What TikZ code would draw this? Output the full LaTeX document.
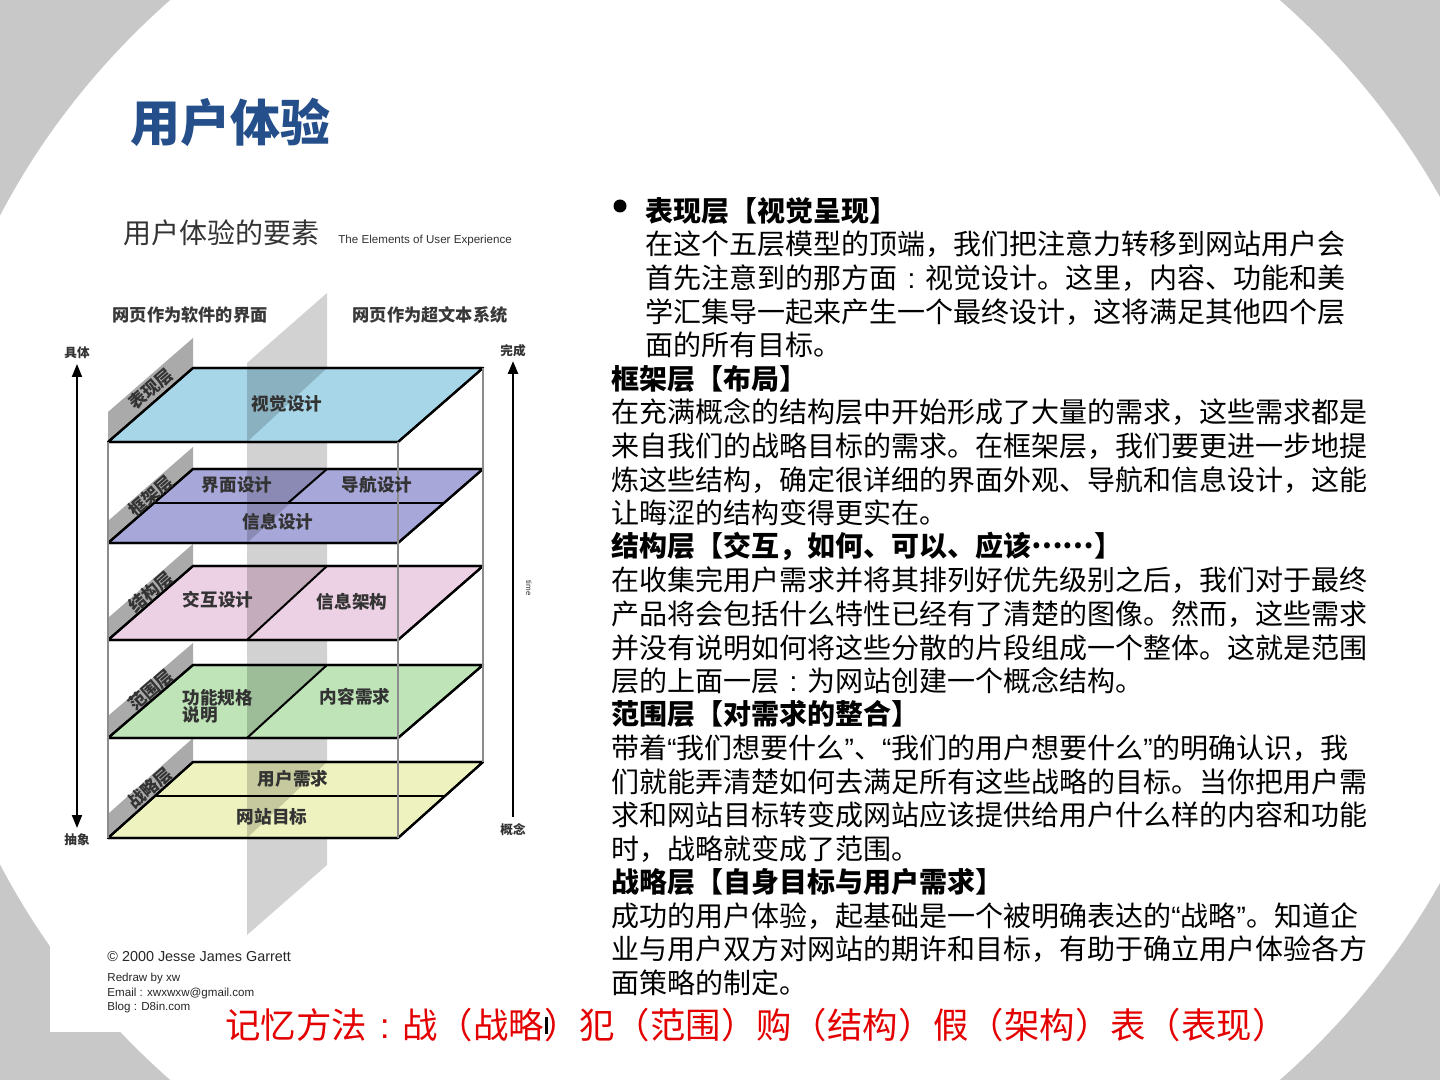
\documentclass[tikz,border=0pt]{standalone}
\usepackage{fontspec}
\usetikzlibrary{arrows.meta}
\newfontfamily\cjk{Noto Sans CJK SC}
\newfontfamily\arialf{Liberation Sans}
\newcommand\myoq{{\arialf “}}
\newcommand\mycq{{\arialf ”}}
\newcommand\zcolon{\makebox[1em][c]{\arialf :}}
\definecolor{bggray}{RGB}{200,200,200}
\definecolor{ttlblue}{RGB}{37,79,138}
\definecolor{pblue}{RGB}{166,214,232}
\definecolor{ppurple}{RGB}{167,167,218}
\definecolor{ppink}{RGB}{236,208,228}
\definecolor{pgreen}{RGB}{190,228,184}
\definecolor{pyellow}{RGB}{238,242,190}
\definecolor{tabgray}{RGB}{170,170,170}
\definecolor{midgray}{RGB}{210,210,210}
\definecolor{memred}{RGB}{228,0,0}
\begin{document}
\begin{tikzpicture}[x=0.5pt,y=-0.5pt,
  planeln/.style={draw=black, line width=1.1pt, line join=round},
  divln/.style={draw=black, line width=1pt},
  boxln/.style={draw=black!45, line width=0.8pt},
  tabfill/.style={fill=tabgray},
  shade/.style={fill=black, opacity=0.17},
  tablbl/.style={rotate=41, inner sep=0, font=\cjk\bfseries\fontsize{8.6}{8.6}\selectfont, text=black!80},
  plbl/.style={inner sep=0, font=\cjk\bfseries\fontsize{8.8}{9}\selectfont, text=black!80},
  sidelbl/.style={inner sep=0, font=\cjk\bfseries\fontsize{8.6}{9}\selectfont, text=black!78},
  axlbl/.style={inner sep=0, font=\cjk\bfseries\fontsize{6.3}{6.3}\selectfont, text=black!80},
  credit/.style={anchor=west, inner sep=0, font=\arialf\fontsize{5.8}{6}\selectfont, text=black!85},
  bodyln/.style={anchor=west, inner sep=0, font=\cjk\fontsize{14}{14}\selectfont, text=black},
  headln/.style={anchor=west, inner sep=0, font=\cjk\bfseries\fontsize{14}{14}\selectfont, text=black}
]
\useasboundingbox (0,0) rectangle (1440,1080);
\clip (0,0) rectangle (1440,1080);
% background
\fill[bggray] (0,0) rectangle (1440,1080);
\fill[white] (725,540) ellipse [x radius=805, y radius=745];
\fill[white] (50,180) rectangle (560,1032);

% title
\node[anchor=west, inner sep=0, font=\cjk\bfseries\fontsize{25}{25}\selectfont, text=ttlblue] (title) at (130,122) {用户体验};

% ---------- left diagram ----------
\node[anchor=west, inner sep=0, font=\cjk\fontsize{14}{14}\selectfont, text=black!80] (dtitle) at (123,233) {用户体验的要素};
\node[anchor=west, inner sep=0, font=\arialf\fontsize{5.8}{6}\selectfont, text=black!80] (dsub) at (338,241) {The Elements of User Experience};
\node[sidelbl] (sideL) at (190,315) {网页作为软件的界面};
\node[sidelbl] (sideR) at (430,315) {网页作为超文本系统};

% central vertical gray plane
\fill[midgray] (247,363) -- (327,293) -- (327,865) -- (247,935) -- cycle;

% tabs
\fill[tabfill] (108,442) -- (193,368) -- (193,338) -- (108,412) -- cycle;
\fill[tabfill] (108,543) -- (193,469) -- (193,447) -- (108,521) -- cycle;
\fill[tabfill] (108,640) -- (193,566) -- (193,544) -- (108,618) -- cycle;
\fill[tabfill] (108,738) -- (193,665) -- (193,643) -- (108,716) -- cycle;
\fill[tabfill] (108,838) -- (193,762) -- (193,738) -- (108,814) -- cycle;

% planes
\filldraw[planeln, fill=pblue] (108,442) -- (193,368) -- (483,368) -- (398,442) -- cycle;
\fill[shade] (247,442) -- (247,368) -- (327,368) -- cycle;
\draw[planeln] (108,442) -- (193,368) -- (483,368) -- (398,442) -- cycle;

\filldraw[planeln, fill=ppurple] (108,543) -- (193,469) -- (483,469) -- (398,543) -- cycle;
\fill[shade] (247,543) -- (247,469) -- (327,469) -- cycle;
\draw[planeln] (108,543) -- (193,469) -- (483,469) -- (398,543) -- cycle;
\draw[divln] (154,503) -- (444,503);
\draw[divln] (288,503) -- (327,469);

\filldraw[planeln, fill=ppink] (108,640) -- (193,566) -- (483,566) -- (398,640) -- cycle;
\fill[shade] (247,640) -- (247,566) -- (327,566) -- cycle;
\draw[planeln] (108,640) -- (193,566) -- (483,566) -- (398,640) -- cycle;
\draw[divln] (247,640) -- (327,566);

\filldraw[planeln, fill=pgreen] (108,738) -- (193,665) -- (483,665) -- (398,738) -- cycle;
\fill[shade] (247,738) -- (247,665) -- (327,665) -- cycle;
\draw[planeln] (108,738) -- (193,665) -- (483,665) -- (398,738) -- cycle;
\draw[divln] (247,738) -- (327,665);

\filldraw[planeln, fill=pyellow] (108,838) -- (193,762) -- (483,762) -- (398,838) -- cycle;
\fill[shade] (247,838) -- (247,762) -- (327,762) -- cycle;
\draw[planeln] (108,838) -- (193,762) -- (483,762) -- (398,838) -- cycle;
\draw[divln] (155,796) -- (445,796);

% box verticals
\draw[boxln] (108,442) -- (108,838);
\draw[boxln] (398,442) -- (398,838);
\draw[boxln] (483,368) -- (483,762);

% tab labels
\node[tablbl] (t1) at (151,389) {表现层};
\node[tablbl] (t2) at (151,496) {框架层};
\node[tablbl] (t3) at (151,592) {结构层};
\node[tablbl] (t4) at (151,690) {范围层};
\node[tablbl] (t5) at (150,788) {战略层};

% plane labels
\node[plbl] (l1) at (287,404) {视觉设计};
\node[plbl] (l2a) at (237,485) {界面设计};
\node[plbl] (l2b) at (377,485) {导航设计};
\node[plbl] (l2c) at (278,522) {信息设计};
\node[plbl] (l3a) at (218,600) {交互设计};
\node[plbl] (l3b) at (352,602) {信息架构};
\node[plbl, anchor=west, align=left] (l4a) at (182,706) {功能规格\\[-0.5pt]说明};
\node[plbl] (l4b) at (355,697) {内容需求};
\node[plbl] (l5a) at (293,779) {用户需求};
\node[plbl] (l5b) at (272,817) {网站目标};

% axes
\node[axlbl] (jt) at (77,353) {具体};
\node[axlbl] (cx) at (77,840) {抽象};
\node[axlbl] (wc) at (513,351) {完成};
\node[axlbl] (gn) at (513,830) {概念};
\coordinate (la1) at (77,364);
\coordinate (la2) at (77,828);
\coordinate (ra1) at (513,361);
\coordinate (ra2) at (513,817);
\draw[line width=1pt, {Triangle[length=6.5pt,width=5pt]}-{Triangle[length=6.5pt,width=5pt]}] (la1) -- (la2);
\draw[line width=1.3pt, -{Triangle[length=6.5pt,width=5pt]}] (ra2) -- (ra1);
\node[rotate=-90, inner sep=0, font=\arialf\fontsize{4}{4}\selectfont, text=black!80] (tm) at (529,588) {time};

% credits
\node[credit, font=\arialf\fontsize{7.2}{7.2}\selectfont] (c1) at (107,957) {© 2000 Jesse James Garrett};
\node[credit] (c2) at (107,978) {Redraw by xw};
\node[credit] (c3) at (107,993) {Email : xwxwxw@gmail.com};
\node[credit] (c4) at (107,1007) {Blog : D8in.com};

% ---------- right text ----------
\node[circle, fill=black, inner sep=0, minimum size=6.5pt] (bul) at (620,206) {};
\node[headln] (r1) at (645,211) {表现层【视觉呈现】};
\node[bodyln] (r2) at (645,244) {在这个五层模型的顶端，我们把注意力转移到网站用户会};
\node[bodyln] (r3) at (645,278) {首先注意到的那方面\zcolon 视觉设计。这里，内容、功能和美};
\node[bodyln] (r4) at (645,312) {学汇集导一起来产生一个最终设计，这将满足其他四个层};
\node[bodyln] (r5) at (645,345) {面的所有目标。};
\node[headln] (r6) at (611,379) {框架层【布局】};
\node[bodyln] (r7) at (611,412) {在充满概念的结构层中开始形成了大量的需求，这些需求都是};
\node[bodyln] (r8) at (611,446) {来自我们的战略目标的需求。在框架层，我们要更进一步地提};
\node[bodyln] (r9) at (611,480) {炼这些结构，确定很详细的界面外观、导航和信息设计，这能};
\node[bodyln] (r10) at (611,513) {让晦涩的结构变得更实在。};
\node[headln] (r11) at (611,547) {结构层【交互，如何、可以、应该\raisebox{0.3em}{……}】};
\node[bodyln] (r12) at (611,580) {在收集完用户需求并将其排列好优先级别之后，我们对于最终};
\node[bodyln] (r13) at (611,614) {产品将会包括什么特性已经有了清楚的图像。然而，这些需求};
\node[bodyln] (r14) at (611,648) {并没有说明如何将这些分散的片段组成一个整体。这就是范围};
\node[bodyln] (r15) at (611,681) {层的上面一层\zcolon 为网站创建一个概念结构。};
\node[headln] (r16) at (611,714) {范围层【对需求的整合】};
\node[bodyln] (r17) at (611,748) {带着\myoq 我们想要什么\mycq 、\myoq 我们的用户想要什么\mycq 的明确认识，我};
\node[bodyln] (r18) at (611,782) {们就能弄清楚如何去满足所有这些战略的目标。当你把用户需};
\node[bodyln] (r19) at (611,815) {求和网站目标转变成网站应该提供给用户什么样的内容和功能};
\node[bodyln] (r20) at (611,849) {时，战略就变成了范围。};
\node[headln] (r21) at (611,882) {战略层【自身目标与用户需求】};
\node[bodyln] (r22) at (611,916) {成功的用户体验，起基础是一个被明确表达的\myoq 战略\mycq 。知道企};
\node[bodyln] (r23) at (611,949) {业与用户双方对网站的期许和目标，有助于确立用户体验各方};
\node[bodyln] (r24) at (611,983) {面策略的制定。};

% memory line
\node[anchor=west, inner sep=0, font=\cjk\fontsize{17.7}{18}\selectfont, text=memred] (mem) at (225,1025) {记忆方法\zcolon 战（战略）犯（范围）购（结构）假（架构）表（表现）};
\fill[black] (545,1017) rectangle (548,1034);
\end{tikzpicture}
\end{document}
